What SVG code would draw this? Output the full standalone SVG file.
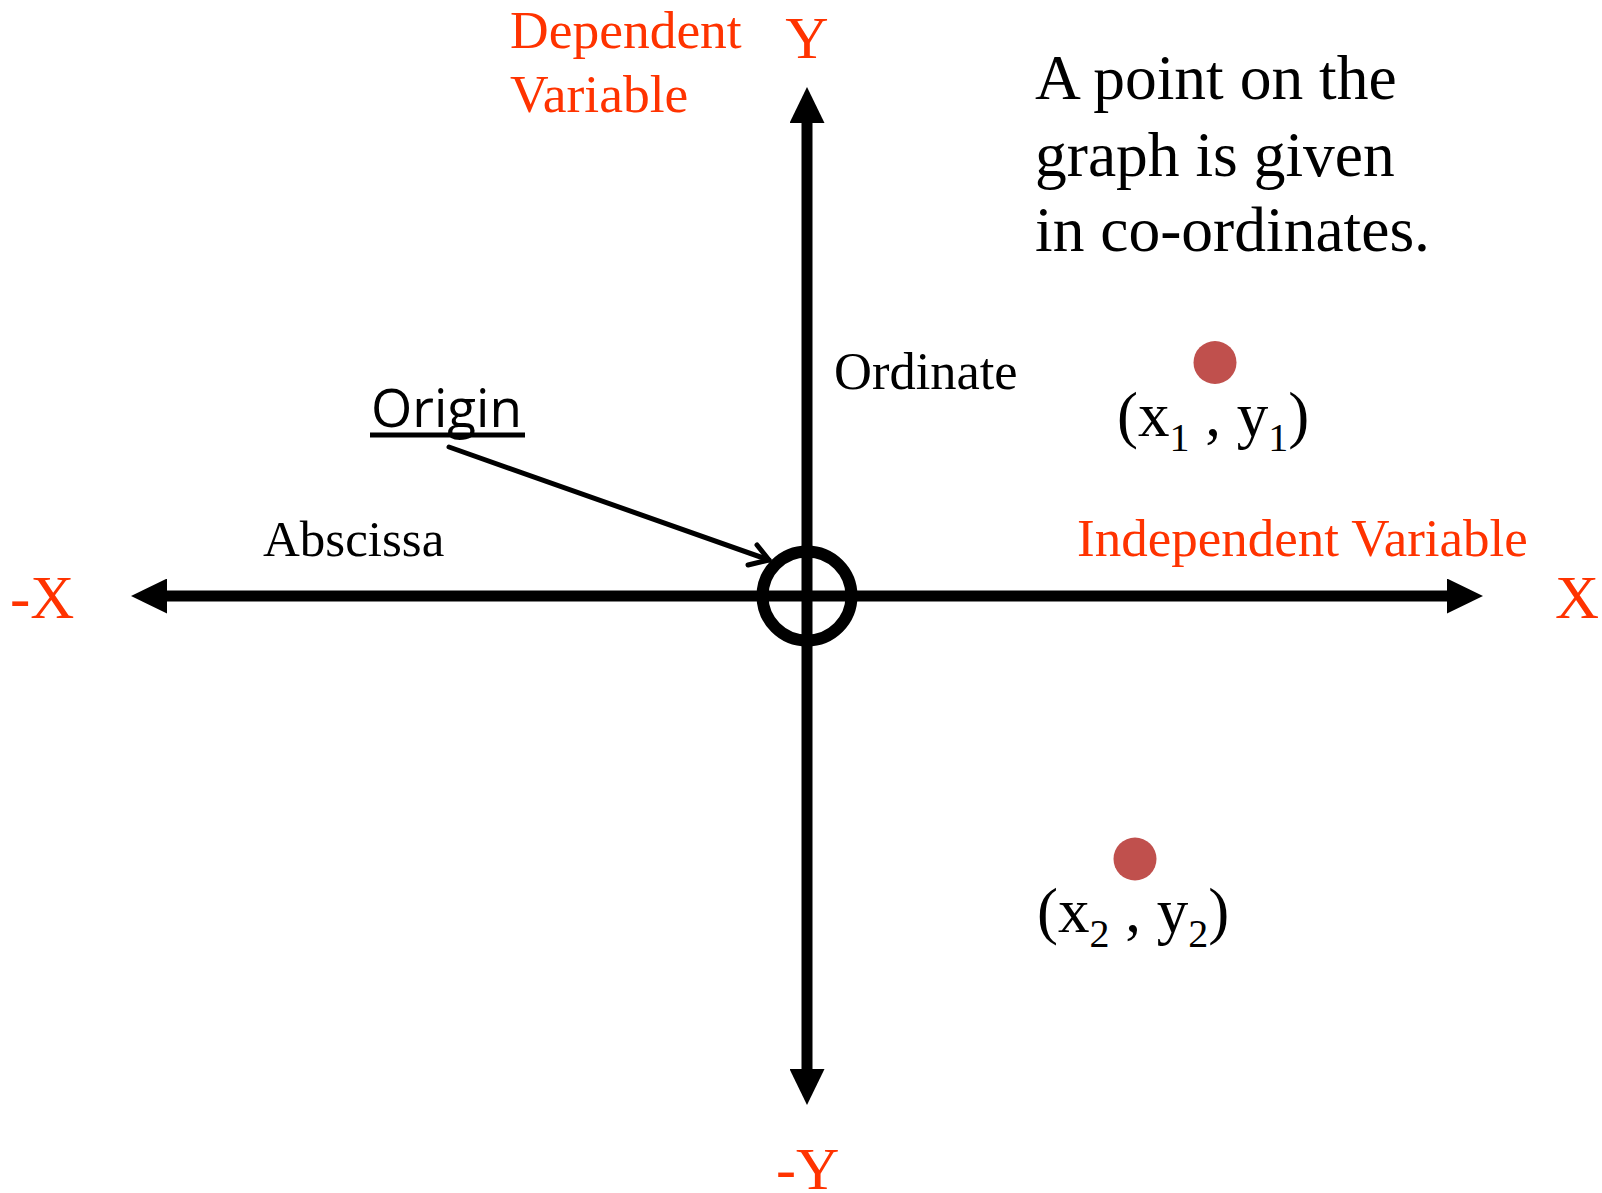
<svg xmlns="http://www.w3.org/2000/svg" width="1602" height="1193" viewBox="0 0 1602 1193">
<style>
.red{fill:#FF3300;font-family:"Liberation Serif","Times New Roman",serif}
.blk{fill:#000;font-family:"Liberation Serif","Times New Roman",serif}
.axis{stroke:#000;stroke-width:11;fill:none}
.pt{fill:#C0504D}
</style>
<defs>
<marker id="ah" markerUnits="userSpaceOnUse" markerWidth="36" markerHeight="35" refX="10" refY="17.5" orient="auto-start-reverse" viewBox="0 0 36 35">
<path d="M0,0 L36,17.5 L0,35 Z" fill="#000"/>
</marker>
</defs>
<rect width="1602" height="1193" fill="#fff"/>
<g id="connectors">
<line id="x-axis" class="axis" x1="157" y1="596" x2="1457" y2="596" marker-start="url(#ah)" marker-end="url(#ah)"/>
<line id="y-axis" class="axis" x1="807" y1="113" x2="807" y2="1079" marker-start="url(#ah)" marker-end="url(#ah)"/>
<g id="origin-pointer" stroke="#000" stroke-width="5" stroke-linecap="round" stroke-linejoin="round" fill="none">
<line x1="449" y1="447" x2="769" y2="560"/>
<polyline points="757,545 769,560 748,565"/>
</g>
</g>
<g id="origin-node">
<circle cx="807" cy="596" r="44.5" fill="none" stroke="#000" stroke-width="12"/>
</g>
<g id="origin-label">
<text x="371" y="427" font-family="'Open Sans','Noto Sans',sans-serif" font-size="53" fill="#000">Origin</text>
<line x1="370" y1="435" x2="525" y2="435" stroke="#000" stroke-width="5"/>
</g>
<g id="labels">
<text class="red" x="510" y="48" font-size="53.5">Dependent</text>
<text class="red" x="510" y="112" font-size="53.5">Variable</text>
<text class="red" x="807" y="58" font-size="60" text-anchor="middle">Y</text>
<text class="red" x="776" y="1189" font-size="60">-Y</text>
<text class="red" x="10" y="618" font-size="61">-X</text>
<text class="red" x="1555" y="618" font-size="61">X</text>
<text class="red" x="1077" y="556" font-size="53">Independent Variable</text>
<text class="blk" x="834" y="389" font-size="52.5">Ordinate</text>
<text class="blk" x="263" y="556" font-size="51">Abscissa</text>
<text class="blk" font-size="63.5"><tspan x="1035" y="99">A point on the</tspan><tspan x="1035" y="176">graph is given</tspan><tspan x="1035" y="251">in co-ordinates.</tspan></text>
</g>
<g id="point1">
<circle class="pt" cx="1215" cy="362.5" r="21.5"/>
<text class="blk" x="1117" y="436" font-size="63">(x<tspan font-size="40" dy="15">1</tspan><tspan dy="-15"> , y</tspan><tspan font-size="40" dy="15">1</tspan><tspan dy="-15">)</tspan></text>
</g>
<g id="point2">
<circle class="pt" cx="1135" cy="859" r="21.5"/>
<text class="blk" x="1037" y="932" font-size="63">(x<tspan font-size="40" dy="15">2</tspan><tspan dy="-15"> , y</tspan><tspan font-size="40" dy="15">2</tspan><tspan dy="-15">)</tspan></text>
</g>
</svg>
